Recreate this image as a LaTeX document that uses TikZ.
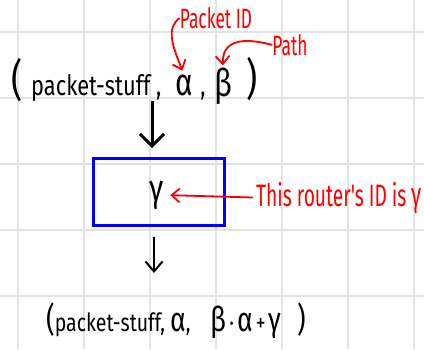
\documentclass[tikz,border=0pt]{standalone}
\usepackage{fontspec}
\newfontfamily\handfont[FakeStretch=0.78]{Fira Sans}
\newfontfamily\notefont[FakeStretch=0.62]{Fira Sans}
\newcommand\bigsym[1]{{\fontsize{34}{34}\selectfont #1}}
\usetikzlibrary{arrows.meta}

\begin{document}
\begin{tikzpicture}[
    x=1pt, y=-1pt,
    gridline/.style={line width=1.3pt, black!11},
    tuple/.style={inner sep=0pt, font=\handfont\fontsize{28}{30}\selectfont},
    greek/.style={inner sep=0pt, font=\handfont\fontsize{38}{38}\selectfont},
    paren/.style={inner sep=0pt, font=\handfont\fontsize{44}{44}\selectfont},
    note/.style={inner sep=0pt, red, font=\notefont\fontsize{28}{30}\selectfont},
    redarrow/.style={-{Straight Barb[length=8pt, width=14pt]}, red, line width=1.8pt},
    bigarrow/.style={-{Straight Barb[length=12pt, width=24pt]}, line width=3pt},
    thinarrow/.style={-{Straight Barb[length=10pt, width=17pt]}, line width=2pt},
]

\useasboundingbox (0,0) rectangle (424,349);


% Grid

\foreach \gx in {18,84,...,414}
    \draw[gridline] (\gx,0) -- (\gx,349);
\foreach \gy in {32,98,...,296}
    \draw[gridline] (0,\gy) -- (424,\gy);


% Paquet d'entrada

\node[paren] (lparen) at (17,80) {(};
\node[tuple, anchor=base west] (stuff) at (31,95) {packet-stuff ,};
\node[greek, anchor=base] (alpha) at (184,95) {α};
\node[tuple, anchor=base] (comma) at (203,95) {,};
\node[greek, anchor=base] (beta) at (223,96) {β};
\node[paren] (rparen) at (252,79) {)};


% Etiquetes

\node[note] (pid) at (216,18) {Packet ID};
\node[note] (path) at (290,45) {Path};

\draw[redarrow, shorten >=4pt]
    (pid.west) .. controls (166,28) and (172,45) .. (alpha.north);

\draw[redarrow, shorten >=2pt]
    (path.west) .. controls (240,36) and (222,42) .. (beta.north);


% Router

\node[
    draw=blue,
    line width=3pt,
    minimum width=131pt,
    minimum height=67pt
] (router) at (159,192) {};

\node[greek] (gam) at (157,195) {γ};

\node[note, anchor=base west, font=\notefont\fontsize{31}{31}\selectfont]
    (rid) at (256,206) {This router's ID is \bigsym{γ}};

\draw[redarrow, shorten <=3pt, shorten >=6pt] (rid.west) -- (gam.east);


% Fletxes

\coordinate (in) at (152,148);
\draw[bigarrow] (in |- stuff.south) -- (in);

\coordinate (out) at (154,273);
\draw[thinarrow, shorten <=10pt] (router.south -| out) -- (out);


% Paquet de sortida

\node[tuple, anchor=base west, font=\handfont\fontsize{25}{30}\selectfont]
    (result) at (46,331)
    {\bigsym{(}packet-stuff, \bigsym{α},\hspace{20pt}\bigsym{β}\hspace{3pt}·\hspace{3pt}\bigsym{α}\hspace{3pt}+\hspace{3pt}\bigsym{γ}\hspace{16pt}\bigsym{)}};

\end{tikzpicture}
\end{document}
